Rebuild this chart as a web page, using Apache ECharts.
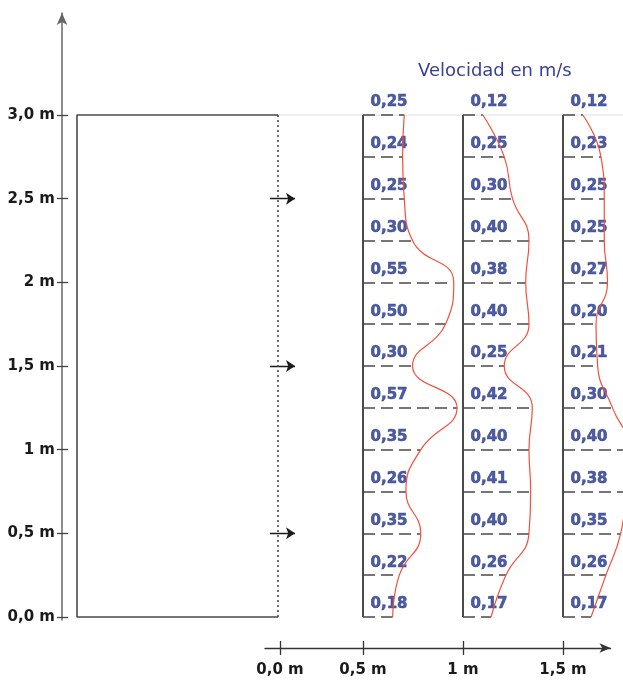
<!DOCTYPE html>
<html><head><meta charset="utf-8">
<script src="https://cdn.jsdelivr.net/npm/echarts@6/dist/echarts.min.js"></script>
<style>html,body{margin:0;padding:0;background:#fff}#c{width:623px;height:685px}</style>
</head><body><div id="c"></div>
<script>
// ---- data ----
const levels = [0, 0.25, 0.5, 0.75, 1.0, 1.25, 1.5, 1.75, 2.0, 2.25, 2.5, 2.75, 3.0];
const stations = [0.5, 1.0, 1.5];
const velocity1 = [0.18, 0.22, 0.35, 0.26, 0.35, 0.57, 0.30, 0.50, 0.55, 0.30, 0.25, 0.24, 0.25];
const velocity2 = [0.17, 0.26, 0.40, 0.41, 0.40, 0.42, 0.25, 0.40, 0.38, 0.40, 0.30, 0.25, 0.12];
const velocity3 = [0.17, 0.26, 0.35, 0.38, 0.40, 0.30, 0.21, 0.20, 0.27, 0.25, 0.25, 0.23, 0.12];
const profiles = [velocity1, velocity2, velocity3];
const yTickValues = [0, 0.5, 1, 1.5, 2, 2.5, 3];
const yTickLabels = ['0,0 m', '0,5 m', '1 m', '1,5 m', '2 m', '2,5 m', '3,0 m'];
const xTickValues = [0.085, 0.5, 1.0, 1.5];
const xTickLabels = ['0,0 m', '0,5 m', '1 m', '1,5 m'];
const channelLeft = -0.93, channelRight = 0.075, channelTop = 3;
const arrowLevels = [2.5, 1.5, 0.5];
const titleText = 'Velocidad en m/s';

// ---- style ----
const velScale = 0.825;          // drawing offset (m on page) per m/s
const dark = '#4a4a4a', blue = '#233489', red = '#f2503c';
const fmt = v => v.toFixed(2).replace('.', ',');

const series = [];
series.push({type:'line', xAxisIndex:0, yAxisIndex:0, data:[[channelRight, channelTop],[1.8, channelTop]],
  showSymbol:false, silent:true, lineStyle:{color:'#dedede', width:1}, z:1});
series.push({type:'line', xAxisIndex:0, yAxisIndex:0,
  data:[[channelRight, channelTop],[channelLeft, channelTop],[channelLeft, 0],[channelRight, 0]],
  showSymbol:false, silent:true, lineStyle:{color:dark, width:1.6}});
series.push({type:'line', xAxisIndex:0, yAxisIndex:0, data:[[channelRight,0],[channelRight,channelTop]],
  showSymbol:false, silent:true, lineStyle:{color:dark, width:1.6, type:[2,3]}});
series.push({type:'lines', coordinateSystem:'cartesian2d', xAxisIndex:0, yAxisIndex:0,
  symbol:['none','arrow'], symbolSize:9, silent:true,
  lineStyle:{color:'#1a1a1a', width:1.4, opacity:1},
  data: arrowLevels.map(l => ({coords:[[0.035, l],[0.16, l]]}))});

profiles.forEach((vals, p) => {
  const s = stations[p];
  series.push({type:'line', xAxisIndex:0, yAxisIndex:0, data:[[s,0],[s,3]], showSymbol:false, silent:true,
    lineStyle:{color:dark, width:2}});
  series.push({type:'lines', coordinateSystem:'cartesian2d', xAxisIndex:0, yAxisIndex:0, silent:true,
    lineStyle:{color:dark, width:1.7, type:[12,6], opacity:1},
    data: levels.map((l, i) => ({coords:[[s, l],[s + vals[i]*velScale, l]]}))});
  series.push({type:'scatter', xAxisIndex:0, yAxisIndex:0, symbolSize:1, silent:true,
    itemStyle:{color:'transparent'},
    data: levels.map((l, i) => [s, l, vals[i]]),
    label:{show:true, position:[8,-12], align:'left', verticalAlign:'middle',
      formatter: d => fmt(d.value[2]), color:blue, fontWeight:'bold', fontSize:15, fontFamily:'DejaVu Sans',
      textBorderColor:blue, textBorderWidth:0.6}, z:3});
  series.push({type:'line', xAxisIndex:0, yAxisIndex:0, smooth:0.5, showSymbol:false, silent:true,
    data: levels.map((l, i) => [s + vals[i]*velScale, l]),
    lineStyle:{color:red, width:1.2}, z:4});
});

const chart = echarts.init(document.getElementById('c'), null, {renderer:'canvas'});
chart.setOption({
  animation:false,
  backgroundColor:'#fff',
  title:{text:titleText, left:418, top:62, padding:0,
    textStyle:{color:'#3a3f96', fontWeight:'normal', fontSize:18, fontFamily:'DejaVu Sans'}},
  grid:[
    {left:62, right:0, top:13, bottom:65},
    {left:265, right:12.5, top:600, bottom:37}
  ],
  xAxis:[
    {type:'value', gridIndex:0, min:-1.005, max:1.8, show:false},
    {type:'value', gridIndex:1, min:0.01, max:1.7375, position:'bottom',
      axisLine:{show:true, onZero:false, symbol:['none','arrow'], symbolSize:[7,11], lineStyle:{color:'#333', width:1.3}},
      axisTick:{show:true, length:7, customValues:xTickValues, lineStyle:{color:'#333', width:1.3}},
      axisLabel:{show:true, customValues:xTickValues, margin:15,
        formatter: v => xTickLabels[xTickValues.indexOf(v)],
        color:'#1a1a1a', fontWeight:'bold', fontSize:15, fontFamily:'DejaVu Sans'},
      splitLine:{show:false}},
    {type:'value', gridIndex:1, min:0.01, max:1.7375, position:'bottom',
      axisLine:{show:false, onZero:false},
      axisTick:{show:true, inside:true, length:7, customValues:xTickValues, lineStyle:{color:'#333', width:1.3}},
      axisLabel:{show:false}, splitLine:{show:false}}
  ],
  yAxis:[
    {type:'value', gridIndex:0, min:-0.0179, max:3.6096, position:'left',
      axisLine:{show:true, onZero:false, symbol:['none','arrow'], symbolSize:[8,12], lineStyle:{color:'#666', width:1.5}},
      axisTick:{show:true, length:5, customValues:yTickValues, lineStyle:{color:'#444', width:1.3}},
      axisLabel:{show:true, customValues:yTickValues, margin:7,
        formatter: v => yTickLabels[yTickValues.indexOf(v)],
        color:'#1a1a1a', fontWeight:'bold', fontSize:15, fontFamily:'DejaVu Sans'},
      splitLine:{show:false}},
    {type:'value', gridIndex:0, min:-0.0179, max:3.6096, position:'left',
      axisLine:{show:false, onZero:false},
      axisTick:{show:true, inside:true, length:6, customValues:yTickValues, lineStyle:{color:'#444', width:1.3}},
      axisLabel:{show:false}, splitLine:{show:false}},
    {type:'value', gridIndex:1, show:false}
  ],
  series: series
});
</script></body></html>
